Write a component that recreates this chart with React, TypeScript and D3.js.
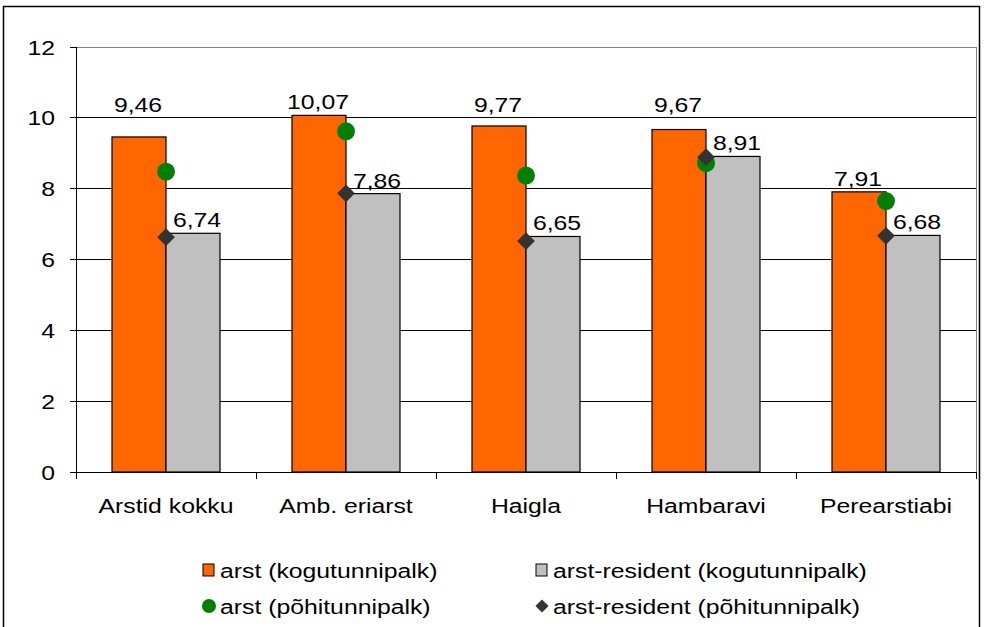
import * as d3 from 'd3'

const categories = ['Arstid kokku', 'Amb. eriarst', 'Haigla', 'Hambaravi', 'Perearstiabi']
const arstTotal = [9.46, 10.07, 9.77, 9.67, 7.91]
const residentTotal = [6.74, 7.86, 6.65, 8.91, 6.68]
const arstBase = [8.48, 9.62, 8.37, 8.72, 7.65]
const residentBase = [6.63, 7.87, 6.52, 8.89, 6.67]
const yTicks = [0, 2, 4, 6, 8, 10, 12]
const legendLabels = [
  'arst (kogutunnipalk)',
  'arst-resident (kogutunnipalk)',
  'arst (põhitunnipalk)',
  'arst-resident (põhitunnipalk)',
]

const ORANGE = '#FF6600'
const GRAY = '#C0C0C0'
const GREEN = '#008000'
const DARK = '#333333'
const FONT = '"Liberation Sans", Arial, sans-serif'
const FS = 21
const SX = 1.18

const fmt = (v: number) => v.toFixed(2).replace('.', ',')

// wide text like the original export
function T({ x, y, anchor = 'start', children }: { x: number; y: number; anchor?: string; children: any }) {
  return (
    <text transform={`translate(${x},${y}) scale(${SX},1)`} textAnchor={anchor} fontSize={FS} fill="#000">
      {children}
    </text>
  )
}

export default function App() {
  const width = 984
  const height = 627
  const plot = { left: 76, right: 976, top: 47, bottom: 472 }

  const x = d3.scaleBand<string>().domain(categories).range([plot.left, plot.right]).padding(0)
  const y = d3.scaleLinear().domain([0, 12]).range([plot.bottom, plot.top])
  const barW = x.bandwidth() * 0.3

  const diamond = d3.symbol().type(d3.symbolDiamond2).size(200)()

  // label baseline above the bar, pushed above a gridline if the text would cross it
  const labelY = (v: number) => {
    let base = y(v) - 6
    const hit = yTicks.find(t => y(t) >= base - 17 && y(t) <= base)
    if (hit !== undefined) base = y(hit) - 6
    return base
  }

  return (
    <svg width={width} height={height} style={{ position: 'absolute', left: 0, top: 0, fontFamily: FONT }}>
      <rect x={0} y={0} width={width} height={height} fill="#fff" />
      <rect x={3.5} y={6.5} width={976} height={660} fill="none" stroke="#000" strokeWidth={1.5} />

      {/* grid */}
      {yTicks.map(t => (
        <line key={t} x1={plot.left} x2={plot.right} y1={y(t)} y2={y(t)}
          stroke={t === 12 ? '#808080' : '#000'} strokeWidth={1} shapeRendering="crispEdges" />
      ))}
      <line x1={plot.right} x2={plot.right} y1={plot.top} y2={plot.bottom} stroke="#808080" shapeRendering="crispEdges" />

      {/* y axis */}
      <line x1={plot.left} x2={plot.left} y1={plot.top} y2={plot.bottom} stroke="#000" shapeRendering="crispEdges" />
      {yTicks.map(t => (
        <g key={t}>
          <line x1={plot.left - 6} x2={plot.left} y1={y(t)} y2={y(t)} stroke="#000" shapeRendering="crispEdges" />
          <T x={plot.left - 21} y={y(t) + 7.5} anchor="end">{t}</T>
        </g>
      ))}

      {/* x axis */}
      <line x1={plot.left} x2={plot.right} y1={plot.bottom} y2={plot.bottom} stroke="#000" shapeRendering="crispEdges" />
      {categories.map(c => (
        <line key={c} x1={x(c)!} x2={x(c)!} y1={plot.bottom} y2={plot.bottom + 7} stroke="#000" shapeRendering="crispEdges" />
      ))}
      <line x1={plot.right} x2={plot.right} y1={plot.bottom} y2={plot.bottom + 7} stroke="#000" shapeRendering="crispEdges" />
      {categories.map(c => (
        <T key={c} x={x(c)! + x.bandwidth() / 2} y={513} anchor="middle">{c}</T>
      ))}

      {/* bars */}
      {categories.map((c, i) => {
        const cx = x(c)! + x.bandwidth() / 2
        return (
          <g key={c}>
            <rect x={cx - barW} y={y(arstTotal[i])} width={barW} height={plot.bottom - y(arstTotal[i])}
              fill={ORANGE} stroke="#000" strokeWidth={1.2} />
            <rect x={cx} y={y(residentTotal[i])} width={barW} height={plot.bottom - y(residentTotal[i])}
              fill={GRAY} stroke="#000" strokeWidth={1.2} />
          </g>
        )
      })}

      {/* markers */}
      {categories.map((c, i) => {
        const cx = x(c)! + x.bandwidth() / 2
        return (
          <g key={c}>
            <circle cx={cx} cy={y(arstBase[i])} r={9} fill={GREEN} />
            <path d={diamond!} transform={`translate(${cx},${y(residentBase[i])})`} fill={DARK} />
          </g>
        )
      })}

      {/* value labels */}
      {categories.map((c, i) => {
        const cx = x(c)! + x.bandwidth() / 2
        return (
          <g key={c}>
            <T x={cx - barW / 2 - 1} y={labelY(arstTotal[i])} anchor="middle">{fmt(arstTotal[i])}</T>
            <T x={cx + barW / 2 + 4} y={labelY(residentTotal[i])} anchor="middle">{fmt(residentTotal[i])}</T>
          </g>
        )
      })}

      {/* legend */}
      {legendLabels.map((l, i) => {
        const lx = i % 2 === 0 ? 203 : 536
        const ly = i < 2 ? 570 : 606
        return (
          <g key={l}>
            {i === 0 && <rect x={lx} y={ly - 6} width={11} height={12} fill={ORANGE} stroke="#000" />}
            {i === 1 && <rect x={lx} y={ly - 6} width={11} height={12} fill={GRAY} stroke="#000" />}
            {i === 2 && <circle cx={lx + 6} cy={ly} r={7} fill={GREEN} />}
            {i === 3 && <path d={d3.symbol().type(d3.symbolDiamond2).size(110)()!} transform={`translate(${lx + 6},${ly})`} fill={DARK} />}
            <T x={lx + 17} y={ly + 7.5}>{l}</T>
          </g>
        )
      })}
    </svg>
  )
}
